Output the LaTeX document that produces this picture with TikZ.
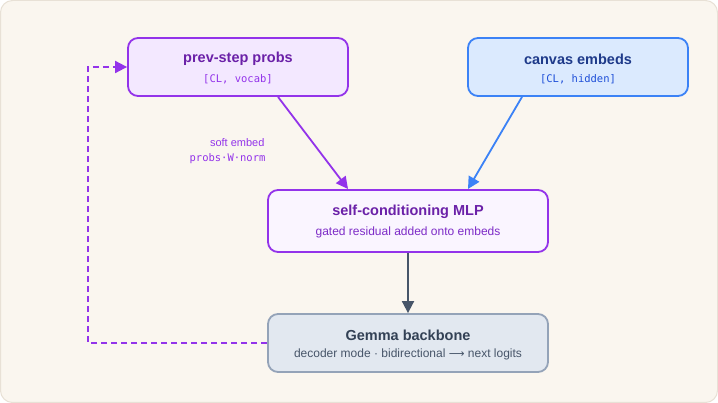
\documentclass[tikz,border=0pt]{standalone}
\usepackage{fontspec}
\setmainfont{Liberation Sans}
\newfontfamily\monof{DejaVu Sans Mono}
\newfontfamily\symf{DejaVu Sans}
\usetikzlibrary{arrows.meta,positioning}
\definecolor{bgc}{HTML}{FAF6EF}
\definecolor{bgborder}{HTML}{E8E1D6}
\definecolor{purp}{HTML}{9333EA}
\definecolor{purpdark}{HTML}{6B21A8}
\definecolor{purpfill}{HTML}{F3E8FF}
\definecolor{purplight}{HTML}{FAF5FF}
\definecolor{blu}{HTML}{3B82F6}
\definecolor{bludark}{HTML}{1E3A8A}
\definecolor{blumono}{HTML}{1D4ED8}
\definecolor{blufill}{HTML}{DBEAFE}
\definecolor{slt}{HTML}{94A3B8}
\definecolor{sltfill}{HTML}{E2E8F0}
\definecolor{sltdark}{HTML}{334155}
\definecolor{sltmid}{HTML}{475569}
\tikzset{
  box/.style={draw, line width=1.8pt, rounded corners=10pt, inner sep=0pt},
  ttl/.style={font=\bfseries\fontsize{14.5}{16}\selectfont},
  sub/.style={font=\fontsize{12}{14}\selectfont},
  mono/.style={font=\monof\fontsize{10.5}{12}\selectfont},
  arr/.style={line width=1.8pt, -{Triangle[length=12pt,width=12pt]}},
}
\begin{document}
\begin{tikzpicture}[x=1pt,y=-1pt]
\useasboundingbox (0,0) rectangle (718,403);
\draw[fill=bgc, draw=bgborder, line width=1pt, rounded corners=12pt] (0.5,0.5) rectangle (717.5,402.5);

% boxes
\node[box, draw=purp, fill=purpfill, minimum width=220pt, minimum height=58pt] (prev) at (238,67) {};
\node[ttl, text=purpdark] (prevt) at (238,59) {prev-step probs};
\node[mono, text=purp] (prevs) at (238,79) {[CL, vocab]};

\node[box, draw=blu, fill=blufill, minimum width=220pt, minimum height=58pt] (canv) at (578,67) {};
\node[ttl, text=bludark] (canvt) at (578,59) {canvas embeds};
\node[mono, text=blumono] (canvs) at (578,79) {[CL, hidden]};

\node[box, draw=purp, fill=purplight, minimum width=280pt, minimum height=62pt] (mlp) at (408,221) {};
\node[ttl, text=purpdark] (mlpt) at (408,212) {self-conditioning MLP};
\node[sub, text=purp!85!black] (mlps) at (408,232) {gated residual added onto embeds};

\node[box, draw=slt, fill=sltfill, minimum width=280pt, minimum height=58pt] (gem) at (408,343) {};
\node[ttl, text=sltdark] (gemt) at (408,335) {Gemma backbone};
\node[sub, text=sltmid] (gems) at (408,354) {decoder mode · bidirectional {\symf\fontsize{11}{13}\selectfont ⟶} next logits};

% label
\node[font=\fontsize{11}{13}\selectfont, text=purp, anchor=east] (lab1) at (268,143) {soft embed};
\node[font=\monof\fontsize{10.5}{12}\selectfont, text=purp, anchor=east] (lab2) at (269,159) {probs·W·norm};

% arrows
\draw[arr, purp] (prev.south -| 278,0) -- (348,189);
\draw[arr, blu] (canv.south -| 522,0) -- (468,189);
\draw[arr, sltmid] (mlp.south) -- (gem.north);
\coordinate (c1) at (88,343);
\coordinate (c2) at (88,67);
\draw[arr, purp, dash pattern=on 6pt off 4pt] (gem.west) -- (c1) -- (c2) -- (prev.west);
\end{tikzpicture}
\end{document}
